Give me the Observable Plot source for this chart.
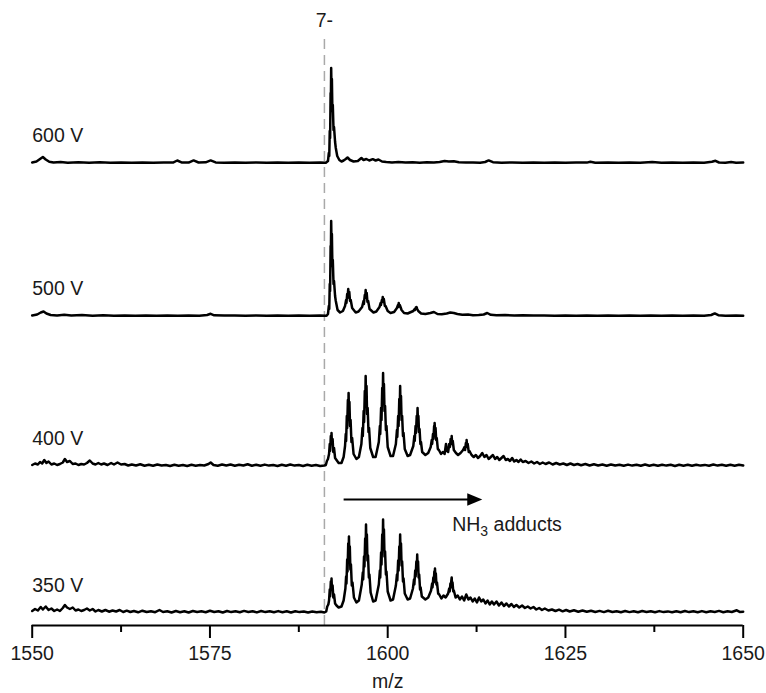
<!DOCTYPE html>
<html>
<head>
<meta charset="utf-8">
<script src="https://cdn.jsdelivr.net/npm/d3@7"></script>
<script src="https://cdn.jsdelivr.net/npm/@observablehq/plot@0.6"></script>
<style>
  html, body { margin: 0; padding: 0; background: #fff; }
  #chart svg { display: block; }
</style>
</head>
<body>
<div id="chart"></div>
<script>
// ---- Data (m/z, intensity in arbitrary units) ----
const traceLabels = ["600 V", "500 V", "400 V", "350 V"];
const majorTicks = [1550, 1575, 1600, 1625, 1650];
const minorTicks = [1562.5, 1587.5, 1612.5, 1637.5];
const chargeLabel = "7-";
const chargeMz = 1591.1;
const adductLabel = "NH3 adducts";
const adductArrowMz = [1593.8, 1613.3];

const spec600 = [[1550,0.5],[1550.6,1.5],[1551.1,4],[1551.5,6],[1551.9,3.5],[1552.4,1.2],[1553,0.4],[1554,0.9],[1555,0.3],[1556.5,0.8],[1558,0.3],[1559.5,0.7],[1561,0.2],[1562.5,0.6],[1564,0.2],[1565.5,0.5],[1567,0.2],[1568.5,0.5],[1569.8,0.4],[1570.4,2.5],[1571,0.6],[1572,0.4],[1572.7,2.6],[1573.4,0.5],[1574.4,0.7],[1575.1,2.6],[1575.8,0.6],[1577,0.3],[1578.5,0.6],[1580,0.2],[1581.5,0.5],[1583,0.2],[1584.5,0.5],[1586,0.2],[1587.5,0.5],[1589,0.2],[1590.5,0.4],[1591.3,0.3],[1591.6,2],[1591.72,10],[1591.78,7],[1591.85,32],[1591.9,25],[1591.97,70],[1592.0,56],[1592.05,95],[1592.1,72],[1592.15,84],[1592.22,52],[1592.28,58],[1592.38,33],[1592.45,36],[1592.6,21],[1592.7,15],[1592.9,7],[1593.2,3],[1593.5,1.5],[1593.8,2.5],[1594.1,4],[1594.35,5.5],[1594.7,3],[1595.2,1.5],[1595.8,2],[1596.3,5],[1596.6,3],[1597,4],[1597.4,2.5],[1597.9,3.8],[1598.3,2.5],[1598.7,3.5],[1599.2,1.5],[1599.8,1],[1600.6,0.5],[1601.5,1],[1602.5,0.4],[1603.5,0.8],[1604.5,0.3],[1605.5,0.7],[1606.5,0.4],[1607.3,1],[1608,2],[1608.6,1.5],[1609.3,1.8],[1610,0.7],[1611,0.4],[1612,0.6],[1613,0.3],[1613.7,1],[1614.2,2.6],[1614.8,0.8],[1616,0.3],[1617.5,0.5],[1619,0.2],[1620.5,0.5],[1622,0.2],[1623.5,0.5],[1625,0.2],[1626.5,0.5],[1628,0.4],[1628.5,1.3],[1629.2,0.3],[1631,0.5],[1632.5,0.2],[1634,0.5],[1635.5,0.3],[1637.2,1],[1638.5,0.3],[1640,0.5],[1641.5,0.2],[1643,0.5],[1644.5,0.3],[1645.6,1.2],[1646.1,2.2],[1646.6,0.5],[1647.5,0.3],[1648.3,0.9],[1649,0.3],[1650,0.4]];

const spec500 = [[1550,0.5],[1550.7,1.5],[1551.2,3.5],[1551.6,4.5],[1552,2.5],[1552.6,1],[1553.5,0.5],[1554.5,1.2],[1555.5,0.5],[1557,0.9],[1558.5,0.3],[1560,0.7],[1561.5,0.3],[1563,0.6],[1564.5,0.2],[1566,0.6],[1567.5,0.3],[1569,0.5],[1570.5,0.3],[1572,0.6],[1573.5,0.3],[1574.6,1],[1575.1,2.2],[1575.6,0.7],[1577,0.4],[1578.5,0.6],[1580,0.2],[1581.5,0.6],[1583,0.3],[1584.5,0.5],[1586,0.2],[1587.5,0.5],[1589,0.3],[1590.5,0.4],[1591.4,0.3],[1591.6,2],[1591.72,10],[1591.78,7],[1591.85,32],[1591.9,25],[1591.97,70],[1592.0,55],[1592.05,95],[1592.1,72],[1592.15,82],[1592.22,50],[1592.28,56],[1592.38,32],[1592.45,35],[1592.6,20],[1592.7,15],[1592.95,6],[1593.3,3.5],[1593.7,5],[1594.0,10],[1594.15,16],[1594.2,13],[1594.3,22],[1594.35,18],[1594.45,27],[1594.52,21],[1594.6,24],[1594.7,15],[1594.8,16],[1595.0,8],[1595.5,3.5],[1595.9,4.5],[1596.4,9],[1596.6,15],[1596.65,12],[1596.78,21],[1596.83,18],[1596.9,26],[1596.97,20],[1597.05,23],[1597.15,14],[1597.25,15],[1597.45,7],[1598,3.5],[1598.4,4.5],[1598.85,9],[1599.0,13],[1599.05,11],[1599.18,16],[1599.23,14],[1599.3,19],[1599.37,15],[1599.45,17],[1599.6,10],[1599.7,10],[1600,5],[1600.4,3],[1600.9,4],[1601.3,8],[1601.45,11],[1601.5,9],[1601.55,13],[1601.62,10],[1601.7,11],[1601.95,6],[1602.3,3],[1602.8,2.5],[1603.6,5],[1603.8,7],[1603.85,6],[1603.95,8.5],[1604.05,9],[1604.15,7],[1604.3,5],[1604.7,2.5],[1605.3,2],[1606,3],[1606.5,4],[1607,2],[1607.6,1.8],[1608.3,2.5],[1608.8,3.5],[1609.3,3],[1609.8,2],[1610.5,1.2],[1611.3,1.5],[1612,0.8],[1612.8,1],[1613.5,1.5],[1614,3],[1614.5,1.2],[1615.3,0.7],[1616.5,1],[1617.8,0.4],[1619,0.7],[1620.5,0.4],[1622,0.6],[1623.5,0.3],[1625,0.5],[1626.5,0.3],[1628,0.6],[1629.5,0.3],[1631,0.5],[1632.5,0.2],[1634,0.5],[1635.5,0.3],[1637,0.6],[1638.5,0.3],[1640,0.5],[1641.5,0.2],[1643,0.4],[1644.5,0.3],[1645.5,1],[1646,2.6],[1646.5,0.8],[1647.5,0.3],[1649,0.5],[1650,0.3]];

const spec400 = [[1550,1],[1550.4,2.5],[1550.8,1.5],[1551.1,4],[1551.4,2.5],[1551.7,6],[1552,3],[1552.3,4.5],[1552.7,1.5],[1553.1,2.5],[1553.5,1],[1553.9,2],[1554.3,3.5],[1554.6,7],[1554.9,4],[1555.3,5],[1555.7,2],[1556.1,2.5],[1556.5,1],[1556.9,2],[1557.3,1.5],[1557.7,3],[1558.1,5.5],[1558.5,2.5],[1558.9,1.5],[1559.3,3],[1559.7,1.5],[1560.1,2.5],[1560.6,1],[1561.1,3],[1561.5,1.5],[1562,3.5],[1562.5,1.5],[1563,2],[1563.5,0.5],[1564,1.5],[1564.6,0.5],[1565.2,1.8],[1565.8,0.3],[1566.4,1.2],[1567,0.2],[1567.6,1.5],[1568.2,0.5],[1568.8,1],[1569.4,0],[1570,1.2],[1570.6,0.3],[1571.2,1],[1571.8,0],[1572.4,1.2],[1573,0.3],[1573.6,1],[1574.2,0.5],[1574.8,2],[1575.1,3.5],[1575.5,1],[1576.1,0.3],[1576.7,1.5],[1577.3,0.5],[1577.9,1.5],[1578.5,0.3],[1579.1,1.2],[1579.7,0.5],[1580.3,1.8],[1580.9,0.3],[1581.5,1.2],[1582.1,0.2],[1582.7,1.4],[1583.3,0.4],[1583.9,1],[1584.5,0],[1585.1,1.3],[1585.7,0.3],[1586.3,1.5],[1586.9,0.4],[1587.5,1],[1588.1,0],[1588.7,1.2],[1589.3,0.3],[1589.9,1],[1590.5,0],[1591.1,0.5],[1591.3,1],[1591.45,5],[1591.6,7],[1591.75,12],[1591.85,22],[1591.9,15],[1592.0,30],[1592.05,22],[1592.1,33],[1592.15,24],[1592.25,27],[1592.35,14],[1592.45,18],[1592.6,8],[1592.8,6],[1593.1,3],[1593.5,3],[1593.8,9],[1594.0,20],[1594.1,32],[1594.15,25],[1594.25,50],[1594.3,38],[1594.4,66],[1594.45,52],[1594.5,73],[1594.55,55],[1594.62,64],[1594.7,40],[1594.78,46],[1594.9,24],[1595.0,28],[1595.2,12],[1595.6,7],[1595.95,9],[1596.3,22],[1596.45,38],[1596.5,30],[1596.62,55],[1596.68,44],[1596.78,75],[1596.84,60],[1596.9,90],[1596.95,68],[1597.02,80],[1597.1,52],[1597.18,58],[1597.3,34],[1597.38,38],[1597.55,18],[1597.95,9],[1598.3,9],[1598.75,24],[1598.9,40],[1598.95,32],[1599.07,58],[1599.13,46],[1599.23,78],[1599.29,62],[1599.35,93],[1599.4,70],[1599.47,82],[1599.55,55],[1599.63,60],[1599.75,36],[1599.83,40],[1600.0,19],[1600.4,10],[1600.75,10],[1601.15,22],[1601.3,36],[1601.35,29],[1601.47,50],[1601.53,40],[1601.63,67],[1601.69,53],[1601.75,80],[1601.8,60],[1601.87,70],[1601.95,46],[1602.03,50],[1602.15,30],[1602.23,33],[1602.4,17],[1602.8,10],[1603.15,11],[1603.6,20],[1603.75,30],[1603.8,25],[1603.92,40],[1603.98,33],[1604.08,50],[1604.14,42],[1604.2,58],[1604.25,45],[1604.32,50],[1604.4,34],[1604.48,37],[1604.6,22],[1604.68,24],[1604.85,14],[1605.3,11],[1605.7,13],[1606.05,19],[1606.2,26],[1606.25,22],[1606.37,32],[1606.43,27],[1606.53,40],[1606.57,33],[1606.6,43],[1606.66,35],[1606.73,38],[1606.82,26],[1606.9,28],[1607.05,17],[1607.2,16],[1607.5,12],[1607.75,14],[1608.0,12],[1608.2,22],[1608.3,15],[1608.4,18],[1608.5,14],[1608.65,22],[1608.75,19],[1608.85,27],[1608.95,22],[1609.0,30],[1609.07,22],[1609.15,25],[1609.3,16],[1609.6,13],[1609.9,11],[1610.25,13],[1610.6,16],[1610.8,19],[1610.88,16],[1611.0,23],[1611.06,19],[1611.1,26],[1611.17,20],[1611.25,22],[1611.4,14],[1611.5,15],[1611.8,11],[1612.1,9],[1612.4,11],[1612.7,8],[1613.0,10],[1613.3,13],[1613.6,9],[1613.9,11],[1614.2,7],[1614.5,9],[1614.8,11],[1615.1,7],[1615.4,9],[1615.7,6],[1616.0,8],[1616.3,10],[1616.6,6],[1616.9,7],[1617.2,5],[1617.5,8],[1617.8,4.5],[1618.1,6],[1618.4,4],[1618.7,6.5],[1619.0,4],[1619.4,5],[1619.8,3],[1620.2,4.5],[1620.6,2.5],[1621.0,4],[1621.4,2],[1621.8,3.5],[1622.2,2],[1622.7,3.5],[1623.2,1.5],[1623.7,3],[1624.2,1.5],[1624.7,2.5],[1625.2,1],[1625.7,2.5],[1626.2,1],[1626.7,2],[1627.2,0.8],[1627.8,2],[1628.4,0.5],[1629,1.8],[1629.6,0.5],[1630.2,1.5],[1630.8,0.3],[1631.4,1.5],[1632,0.5],[1632.6,1.3],[1633.2,0.2],[1633.8,1.4],[1634.4,0.4],[1635,1.2],[1635.6,0.2],[1636.2,1.5],[1636.8,0.3],[1637.4,1.2],[1638,0.2],[1638.6,1.3],[1639.2,0.4],[1639.8,1.2],[1640.4,0],[1641,1.3],[1641.6,0.3],[1642.2,1.2],[1642.8,0.2],[1643.4,1.3],[1644,0.4],[1644.6,1.1],[1645.2,0.2],[1645.8,1.5],[1646.4,0.4],[1647,1.2],[1647.6,0.2],[1648.2,1.3],[1648.8,0.3],[1649.4,1.2],[1650,0.4]];

const spec350 = [[1550,1.5],[1550.4,3.5],[1550.8,2],[1551.2,5.5],[1551.5,3],[1551.9,6],[1552.3,2.5],[1552.7,4],[1553.1,1.5],[1553.5,3],[1553.9,1.5],[1554.3,4.5],[1554.6,7.5],[1554.9,5],[1555.3,3.5],[1555.7,5],[1556.1,2],[1556.5,3],[1556.9,1.5],[1557.3,2.5],[1557.7,4],[1558.1,2],[1558.5,3.5],[1558.9,1],[1559.3,2.5],[1559.8,1],[1560.3,2.5],[1560.8,0.8],[1561.3,2],[1561.8,1],[1562.3,2.5],[1562.8,0.5],[1563.3,1.8],[1563.8,0.5],[1564.3,1.5],[1564.9,0.2],[1565.5,1.8],[1566.1,0.5],[1566.7,1.3],[1567.3,0.3],[1567.9,2.5],[1568.4,0.5],[1569,1.2],[1569.6,0],[1570.2,1.5],[1570.8,0.3],[1571.4,1.3],[1572,0],[1572.6,1.5],[1573.2,0.5],[1573.8,1.2],[1574.4,0.3],[1575,1.8],[1575.6,0.5],[1576.2,1.3],[1576.8,0],[1577.4,1.5],[1578,0.4],[1578.6,1.2],[1579.2,0.2],[1579.8,1.6],[1580.4,0.5],[1581,1.3],[1581.6,0.1],[1582.2,1.5],[1582.8,0.4],[1583.4,1.2],[1584,0.2],[1584.6,1.4],[1585.2,0.3],[1585.8,1.2],[1586.4,0],[1587,1.3],[1587.6,0.4],[1588.2,1],[1588.8,0],[1589.4,1],[1590,0.2],[1590.6,0.8],[1591.1,0],[1591.35,1],[1591.5,6],[1591.65,8],[1591.75,12],[1591.85,23],[1591.9,16],[1592.0,31],[1592.05,23],[1592.1,34],[1592.15,25],[1592.25,27],[1592.35,15],[1592.45,18],[1592.6,9],[1592.8,7],[1593.1,5],[1593.5,6],[1593.8,12],[1594.05,24],[1594.15,36],[1594.2,29],[1594.3,53],[1594.35,41],[1594.45,69],[1594.5,55],[1594.55,76],[1594.6,58],[1594.67,66],[1594.75,43],[1594.83,48],[1594.95,27],[1595.05,30],[1595.25,15],[1595.6,10],[1595.95,12],[1596.35,28],[1596.5,40],[1596.55,33],[1596.67,56],[1596.73,46],[1596.83,74],[1596.89,60],[1596.95,88],[1597.0,67],[1597.07,78],[1597.15,52],[1597.23,57],[1597.35,35],[1597.43,38],[1597.6,20],[1597.95,11],[1598.3,12],[1598.75,28],[1598.9,42],[1598.95,35],[1599.07,60],[1599.13,48],[1599.23,78],[1599.29,63],[1599.35,93],[1599.4,71],[1599.47,83],[1599.55,56],[1599.63,61],[1599.75,38],[1599.83,41],[1600.0,21],[1600.4,12],[1600.75,13],[1601.15,27],[1601.3,38],[1601.35,32],[1601.47,52],[1601.53,42],[1601.63,66],[1601.69,54],[1601.75,78],[1601.8,60],[1601.87,69],[1601.95,47],[1602.03,51],[1602.15,31],[1602.23,34],[1602.4,19],[1602.8,13],[1603.15,14],[1603.55,24],[1603.7,33],[1603.75,28],[1603.87,42],[1603.93,36],[1604.03,51],[1604.09,43],[1604.15,58],[1604.2,46],[1604.27,51],[1604.35,35],[1604.43,38],[1604.55,23],[1604.63,25],[1604.8,16],[1605.3,13],[1605.7,15],[1606.1,22],[1606.25,29],[1606.3,25],[1606.42,35],[1606.48,30],[1606.56,41],[1606.6,35],[1606.65,44],[1606.7,36],[1606.77,39],[1606.85,28],[1606.93,30],[1607.1,19],[1607.25,18],[1607.55,14],[1607.85,17],[1608.15,15],[1608.5,19],[1608.65,24],[1608.72,21],[1608.82,29],[1608.88,25],[1608.95,32],[1609.0,35],[1609.05,27],[1609.12,30],[1609.22,21],[1609.3,22],[1609.55,15],[1609.85,17],[1610.15,13],[1610.45,16],[1610.75,12],[1611.05,18],[1611.35,13],[1611.65,15],[1611.95,11],[1612.25,14],[1612.55,10],[1612.85,15],[1613.15,11],[1613.45,13],[1613.75,9],[1614.05,12],[1614.35,8],[1614.65,11],[1614.95,8],[1615.3,11],[1615.65,7],[1616.0,10],[1616.35,6.5],[1616.7,9],[1617.05,6],[1617.4,8.5],[1617.75,5.5],[1618.1,7.5],[1618.5,5],[1618.9,7],[1619.3,4.5],[1619.7,6],[1620.1,4],[1620.5,5.5],[1620.9,3],[1621.3,4.5],[1621.7,2.5],[1622.1,4],[1622.6,2],[1623.1,3],[1623.6,1.5],[1624.1,2.8],[1624.6,1.2],[1625.1,2.5],[1625.6,1],[1626.2,2.2],[1626.8,0.8],[1627.4,2],[1628,0.7],[1628.6,1.8],[1629.2,0.5],[1629.8,1.6],[1630.4,0.4],[1631,1.7],[1631.6,0.5],[1632.2,1.3],[1632.8,0.3],[1633.4,1.5],[1634,0.4],[1634.6,1.3],[1635.2,0.2],[1635.8,1.5],[1636.4,0.5],[1637,1.2],[1637.6,0.2],[1638.2,1.4],[1638.8,0.4],[1639.4,1.1],[1640,0.2],[1640.6,1.3],[1641.2,0.3],[1641.8,1.5],[1642.4,0.4],[1643,1.2],[1643.6,0.2],[1644.2,1.4],[1644.8,0.3],[1645.4,1.2],[1646,0.5],[1646.6,1.6],[1647.2,0.3],[1647.8,1.2],[1648.4,0.5],[1649.1,2.2],[1649.5,0.6],[1650,0.8]];

// ---- Layout (stacking offsets, in intensity units) ----
const spectra = [spec600, spec500, spec400, spec350];
const stackOffset = {"600 V": 462.5, "500 V": 309.5, "400 V": 159.5, "350 V": 13};
const labelLift = 27;

const rows = [];
traceLabels.forEach((name, i) => {
  for (const [mz, v] of spectra[i]) rows.push({series: name, mz, y: stackOffset[name] + v});
});
const labelRows = traceLabels.map(name => ({name, y: stackOffset[name] + labelLift}));

const FONT = "'Liberation Sans', Arial, Helvetica, sans-serif";
const INK = "#1a1a1a";

// filled right-pointing arrow head with its tip at the origin
const arrowHead = {
  draw(ctx) {
    ctx.moveTo(0, 0);
    ctx.lineTo(-15, -6.3);
    ctx.lineTo(-15, 6.3);
    ctx.closePath();
  }
};

const arrowY = 126;
const chart = Plot.plot({
  width: 766,
  height: 693,
  marginLeft: 31.7,
  marginRight: 23.3,
  marginTop: 0,
  marginBottom: 68,
  style: {fontFamily: FONT, background: "#fff", color: INK},
  x: {domain: [1550, 1650]},
  y: {domain: [0, 625], axis: null},
  marks: [
    Plot.ruleX([chargeMz], {y1: 0, y2: 587, stroke: "#a9a9a9", strokeWidth: 1.5, strokeDasharray: "10,6"}),
    Plot.line(rows, {x: "mz", y: "y", z: "series", stroke: "#000", strokeWidth: 2.5, strokeLinejoin: "round", curve: "linear"}),
    Plot.ruleY([0], {stroke: "#000", strokeWidth: 2}),
    Plot.axisX({ticks: majorTicks, tickSize: 13, tickPadding: 8, strokeWidth: 2, stroke: "#000", fontSize: 19.5, fill: INK, tickFormat: d => String(d), label: null}),
    Plot.axisX({ticks: minorTicks, tickSize: 7, strokeWidth: 2, stroke: "#000", tickFormat: () => "", label: null}),
    Plot.text(["m/z"], {frameAnchor: "bottom", dy: 56.5, fontSize: 19.5, fill: INK, lineAnchor: "middle"}),
    Plot.text(labelRows, {x: 1550, y: "y", text: "name", textAnchor: "start", dx: 0, fontSize: 19.5, fill: INK, lineAnchor: "middle"}),
    Plot.text([chargeLabel], {x: chargeMz, y: 604.5, fontSize: 19.5, fill: INK, lineAnchor: "middle"}),
    Plot.link([adductArrowMz], {x1: d => d[0], x2: d => d[1] - 1.5, y1: arrowY, y2: arrowY, stroke: "#000", strokeWidth: 2.2}),
    Plot.dot([adductArrowMz], {x: d => d[1], y: arrowY, symbol: arrowHead, fill: "#000", stroke: "none", r: 8}),
    Plot.text([adductLabel], {x: 1609.07, y: 101.2, textAnchor: "start", fontSize: 19.5, fill: INK, lineAnchor: "middle"})
  ]
});

// render NH3 with a real subscript
chart.querySelectorAll("text").forEach(t => {
  if (t.textContent === adductLabel) {
    while (t.firstChild) t.removeChild(t.firstChild);
    const ns = "http://www.w3.org/2000/svg";
    const a = document.createElementNS(ns, "tspan"); a.textContent = "NH";
    const b = document.createElementNS(ns, "tspan"); b.textContent = "3";
    b.setAttribute("dy", "5"); b.setAttribute("font-size", "14");
    const c = document.createElementNS(ns, "tspan"); c.textContent = " adducts";
    c.setAttribute("dy", "-5");
    t.append(a, b, c);
  }
});
document.getElementById("chart").appendChild(chart);
</script>
</body>
</html>
